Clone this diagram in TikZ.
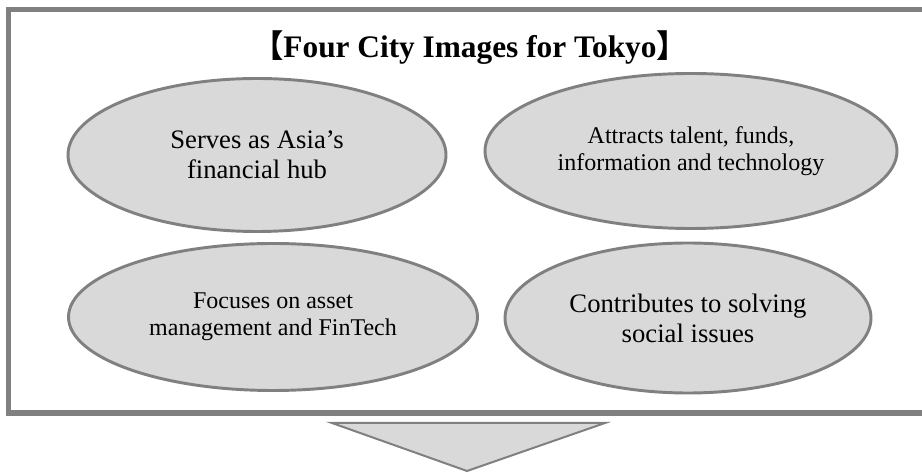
\documentclass[tikz,border=0pt]{standalone}
\usepackage{fontspec}
\setmainfont{Liberation Serif}
\newfontfamily\cjk{Noto Sans CJK JP}
\usetikzlibrary{shapes.geometric}
\definecolor{framegray}{RGB}{128,128,128}
\definecolor{ovalfill}{RGB}{217,217,217}
\tikzset{
  oval/.style = {ellipse, draw = framegray, line width = 2.2pt, fill = ovalfill,
                 align = center, inner sep = 0pt},
  bigtext/.style = {font = \fontsize{20}{22.5}\selectfont},
  smalltext/.style = {font = \fontsize{18}{20.25}\selectfont}
}
\begin{document}
\begin{tikzpicture}[x = 0.75pt, y = -0.75pt]
    \useasboundingbox (0,0) rectangle (922,473);
    % frame, open to the right
    \draw[framegray, line width = 3.8pt] (8.5,9.5) rectangle (935,413);
    \node[anchor = base, font = \bfseries\fontsize{23.5}{28}\selectfont] (title) at (470,58)
        {{\cjk 【}Four City Images for Tokyo{\cjk 】}};
    % the four images
    \node[oval, bigtext, minimum width = 283.5pt, minimum height = 114.75pt] (hub) at (257,155)
        {Serves as Asia's\\financial hub};
    \node[oval, smalltext, minimum width = 309pt, minimum height = 116.25pt] (talent) at (691,151)
        {Attracts talent, funds,\\information and technology};
    \node[oval, smalltext, minimum width = 306.75pt, minimum height = 110.25pt] (fintech) at (273,317)
        {Focuses on asset\\management and FinTech};
    \node[oval, bigtext, minimum width = 274.5pt, minimum height = 112.5pt] (social) at (688,318)
        {Contributes to solving\\social issues};
    % arrow below the frame
    \draw[framegray, line width = 1.5pt, fill = ovalfill] (332,423) -- (605,423) -- (467,471) -- cycle;
\end{tikzpicture}
\end{document}
